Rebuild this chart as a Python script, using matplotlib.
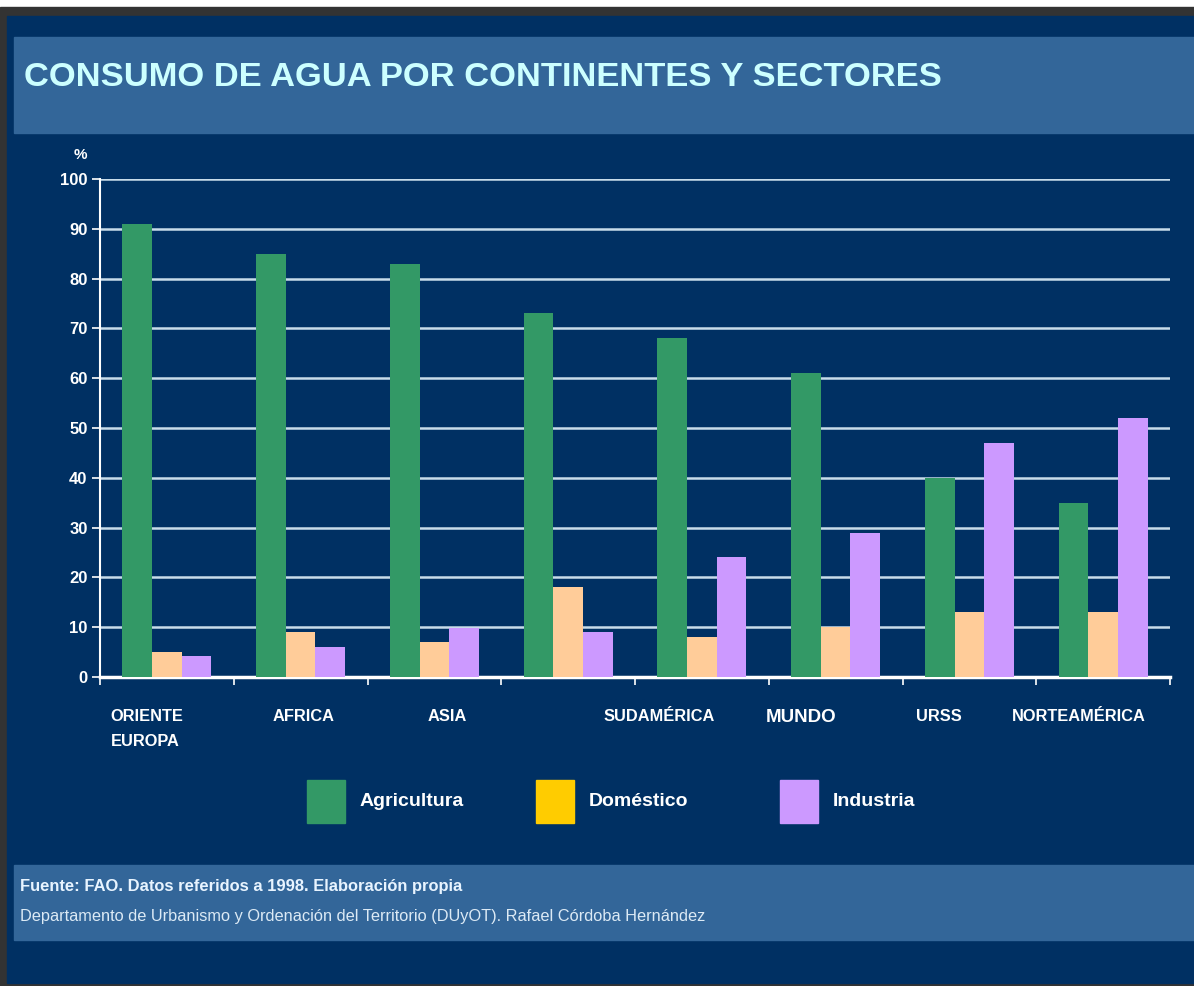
import numpy as np
import matplotlib.pyplot as plt
from matplotlib.patches import Rectangle

continentes = ["ORIENTE\nEUROPA", "AFRICA", "ASIA", "", "SUDAMÉRICA", "MUNDO", "URSS", "NORTEAMÉRICA"]
agricultura = [91, 85, 83, 73, 68, 61, 40, 35]
domestico = [5, 9, 7, 18, 8, 10, 13, 13]
industria = [4.3, 6, 9.8, 9, 24, 29, 47, 52]
yticks = [0, 10, 20, 30, 40, 50, 60, 70, 80, 90, 100]

plt.rcParams['font.family'] = ['Liberation Sans', 'DejaVu Sans']

navy = '#003063'
band = '#336699'
W, H = 1194, 986
fig = plt.figure(figsize=(W / 100, H / 100), dpi=100, facecolor='white')

# frame and bands (figure pixel coords, y from top)
def box(x0, y0, x1, y1, color, z=-10):
    fig.patches.append(Rectangle((x0 / W, 1 - y1 / H), (x1 - x0) / W, (y1 - y0) / H,
                                 transform=fig.transFigure, color=color, zorder=z))

box(0, 7, W, H, '#333333', -12)
box(7, 16, W, 983, navy, -11)
box(14, 37, W, 133, band)
box(14, 865, W, 940, band)

fig.text(24 / W, 1 - 77 / H, "CONSUMO DE AGUA POR CONTINENTES Y SECTORES",
         fontweight='bold', fontsize=24.8, color='#ccffff', va='center', ha='left')

ax = fig.add_axes([100 / W, 1 - 677 / H, (1170 - 100) / W, (677 - 179) / H])
ax.set_zorder(5)
ax.set_facecolor(navy)
x = np.arange(len(continentes))
w = 0.222
ax.bar(x - w, agricultura, w, color='#339966', zorder=3)
ax.bar(x, domestico, w, color='#ffcc99', zorder=3)
ax.bar(x + w, industria, w, color='#cc99ff', zorder=3)

ax.set_xlim(-0.5, len(continentes) - 0.5)
ax.set_ylim(0, 100)
ax.set_yticks(yticks)
ax.set_yticklabels([str(v) for v in yticks], fontweight='bold', fontsize=12, color='white')
ax.grid(axis='y', color='#c8dcea', linewidth=1.8, zorder=1)
for s in ['top', 'right']:
    ax.spines[s].set_visible(False)
for s in ['left', 'bottom']:
    ax.spines[s].set_color('white')
    ax.spines[s].set_linewidth(1.5)
ax.spines['bottom'].set_linewidth(2.5)
ax.tick_params(axis='y', colors='white', length=6, width=1.2, pad=3)

ax.set_xticks(x)
ax.set_xticklabels([])
ax.set_xticks(np.arange(len(continentes) + 1) - 0.5, minor=True)
ax.tick_params(axis='x', which='major', length=0)
ax.tick_params(axis='x', which='minor', direction='out', length=6, width=1.2, colors='white')

# category labels (slightly shifted as in the original slide)
shift = [-0.42, 0.02, 0.1, 0, -0.32, -0.26, -0.23, -0.18]
for i, lab in enumerate(continentes):
    big = lab == "MUNDO"
    ax.text(i + shift[i], -6.5, lab, ha='left' if i == 0 else 'center', va='top',
            fontsize=13.5 if big else 11.8, fontweight='bold', color='white',
            linespacing=1.8)

fig.text(80 / W, 1 - 155 / H, "%", fontsize=11, fontweight='bold', color='white', ha='center', va='center')

# legend
leg = [("Agricultura", '#339966'), ("Doméstico", '#ffcc00'), ("Industria", '#cc99ff')]
lx = [307, 536, 780]
for (lab, c), x0 in zip(leg, lx):
    box(x0, 780, x0 + 38, 823, c)
    fig.text((x0 + 53) / W, 1 - 802 / H, lab, fontweight='bold',
             fontsize=14, color='white', va='center', ha='left')

fig.text(20 / W, 1 - 886 / H, "Fuente: FAO. Datos referidos a 1998. Elaboración propia",
         fontweight='bold', fontsize=11.9, color='#e8f4ff', va='center')
fig.text(20 / W, 1 - 916 / H,
         "Departamento de Urbanismo y Ordenación del Territorio (DUyOT). Rafael Córdoba Hernández",
         fontsize=11.8, color='#dceaf5', va='center')

fig.savefig("out.png", dpi=100, facecolor=fig.get_facecolor())
